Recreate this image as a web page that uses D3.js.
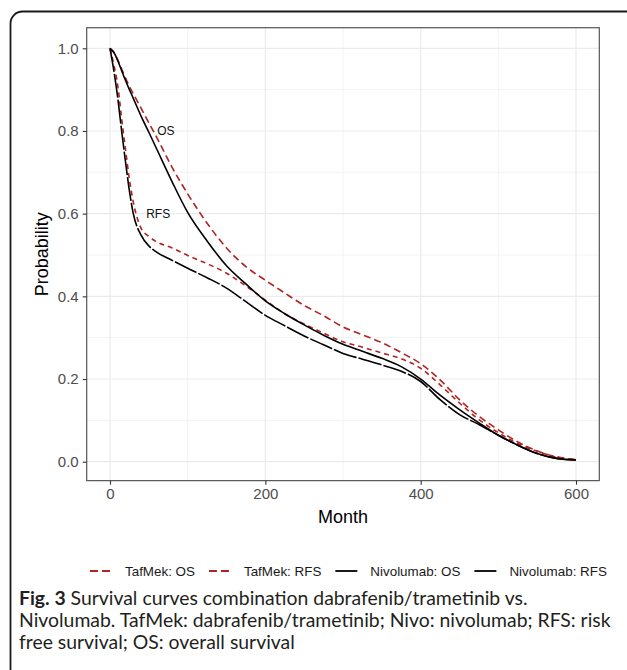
<!DOCTYPE html>
<html>
<head>
<meta charset="utf-8">
<script src="https://cdn.jsdelivr.net/npm/d3@7"></script>
<style>
  html, body { margin: 0; padding: 0; background: #fff; }
  svg { display: block; }
</style>
</head>
<body>
<svg id="chart" width="627" height="670"></svg>
<script>
// ---- data ----
const months = [0, 5, 10, 15, 20, 25, 30, 40, 50, 60, 80, 100, 125, 150, 175, 200, 225, 250, 275, 300, 325, 350, 375, 400, 425, 450, 475, 500, 525, 550, 575, 600];
const tafmekOS = [1.000, 0.990, 0.972, 0.950, 0.928, 0.908, 0.890, 0.855, 0.820, 0.785, 0.712, 0.648, 0.577, 0.517, 0.472, 0.439, 0.408, 0.378, 0.353, 0.326, 0.307, 0.288, 0.264, 0.237, 0.198, 0.150, 0.110, 0.077, 0.048, 0.026, 0.012, 0.005];
const tafmekRFS = [1.000, 0.960, 0.910, 0.830, 0.755, 0.683, 0.628, 0.565, 0.545, 0.532, 0.517, 0.499, 0.479, 0.456, 0.425, 0.391, 0.358, 0.333, 0.311, 0.290, 0.277, 0.263, 0.249, 0.226, 0.186, 0.142, 0.102, 0.070, 0.044, 0.025, 0.011, 0.005];
const nivoOS = [1.000, 0.990, 0.970, 0.946, 0.922, 0.900, 0.879, 0.836, 0.797, 0.757, 0.677, 0.603, 0.534, 0.474, 0.430, 0.389, 0.358, 0.331, 0.306, 0.284, 0.267, 0.250, 0.230, 0.200, 0.161, 0.126, 0.094, 0.064, 0.040, 0.020, 0.008, 0.004];
const nivoRFS = [1.000, 0.945, 0.880, 0.800, 0.725, 0.655, 0.600, 0.548, 0.522, 0.507, 0.487, 0.468, 0.445, 0.420, 0.387, 0.354, 0.329, 0.304, 0.283, 0.262, 0.248, 0.234, 0.219, 0.194, 0.150, 0.114, 0.090, 0.064, 0.040, 0.020, 0.008, 0.004];

const seriesNames = ["TafMek: OS", "TafMek: RFS", "Nivolumab: OS", "Nivolumab: RFS"];
const xTicks = [0, 200, 400, 600];
const yTicks = [0.0, 0.2, 0.4, 0.6, 0.8, 1.0];
const xMinor = [100, 300, 500];
const yMinor = [0.1, 0.3, 0.5, 0.7, 0.9];
const annoLabels = ["OS", "RFS"];
const annoX = [72, 62];
const annoY = [0.8, 0.6];
const captionBold = "Fig. 3";
const captionLines = [
  " Survival curves combination dabrafenib/trametinib vs.",
  "Nivolumab. TafMek: dabrafenib/trametinib; Nivo: nivolumab; RFS: risk",
  "free survival; OS: overall survival"
];

// ---- styles ----
const styles = [
  {color: "#B22222", dash: "7,4"},
  {color: "#B22222", dash: "5,4"},
  {color: "#000000", dash: null},
  {color: "#000000", dash: "24,2"}
];
const series = seriesNames.map((n, i) => ({
  name: n,
  values: [tafmekOS, tafmekRFS, nivoOS, nivoRFS][i].map((v, j) => ({m: months[j], p: v})),
  ...styles[i]
}));

const svg = d3.select("#chart");
svg.append("rect").attr("width", 627).attr("height", 670).attr("fill", "#fff");

// outer rounded frame
svg.append("rect")
  .attr("x", 10.5).attr("y", 11.5).attr("width", 640).attr("height", 720)
  .attr("rx", 12).attr("ry", 12)
  .attr("fill", "none").attr("stroke", "#1a1a1a").attr("stroke-width", 1.8);

const x = d3.scaleLinear().domain([0, 600]).range([110, 576]);
const y = d3.scaleLinear().domain([0, 1]).range([461.7, 48.3]);
const pl = x(-30), pr = x(630), pt = y(1.0498), pb = y(-0.0458);

const g = svg.append("g");
// grid
g.selectAll(".ym").data(yMinor).join("line")
  .attr("x1", pl).attr("x2", pr).attr("y1", d => y(d)).attr("y2", d => y(d))
  .attr("stroke", "#F0F0F0").attr("stroke-width", 0.8);
g.selectAll(".xm").data(xMinor).join("line")
  .attr("y1", pt).attr("y2", pb).attr("x1", d => x(d)).attr("x2", d => x(d))
  .attr("stroke", "#F0F0F0").attr("stroke-width", 0.8);
g.selectAll(".yM").data(yTicks).join("line")
  .attr("x1", pl).attr("x2", pr).attr("y1", d => y(d)).attr("y2", d => y(d))
  .attr("stroke", "#EBEBEB").attr("stroke-width", 1.2);
g.selectAll(".xM").data(xTicks).join("line")
  .attr("y1", pt).attr("y2", pb).attr("x1", d => x(d)).attr("x2", d => x(d))
  .attr("stroke", "#EBEBEB").attr("stroke-width", 1.2);

// lines
const line = d3.line().x(d => x(d.m)).y(d => y(d.p)).curve(d3.curveMonotoneX);
series.forEach(s => {
  g.append("path").attr("d", line(s.values))
    .attr("fill", "none").attr("stroke", s.color).attr("stroke-width", 1.6)
    .attr("stroke-dasharray", s.dash);
});

// annotations
annoLabels.forEach((t, i) => {
  g.append("text").attr("x", x(annoX[i])).attr("y", y(annoY[i]))
    .attr("dy", "0.35em").attr("text-anchor", "middle")
    .attr("font-family", "Liberation Sans, Arial, sans-serif").attr("font-size", 12)
    .attr("fill", "#111").text(t);
});

// panel border
g.append("rect").attr("x", pl).attr("y", pt).attr("width", pr - pl).attr("height", pb - pt)
  .attr("fill", "none").attr("stroke", "#555").attr("stroke-width", 1.2);

// axes
const xAxis = svg.append("g").attr("transform", `translate(0,${pb})`)
  .call(d3.axisBottom(x).tickValues(xTicks).tickSize(4).tickPadding(4).tickFormat(d3.format("d")));
const yAxis = svg.append("g").attr("transform", `translate(${pl},0)`)
  .call(d3.axisLeft(y).tickValues(yTicks).tickSize(4).tickPadding(4).tickFormat(d3.format(".1f")));
[xAxis, yAxis].forEach(a => {
  a.select(".domain").remove();
  a.selectAll(".tick line").attr("stroke", "#333").attr("stroke-width", 1.1);
  a.selectAll(".tick text").attr("font-family", "Liberation Sans, Arial, sans-serif")
    .attr("font-size", 15).attr("fill", "#4d4d4d");
});

// axis titles
svg.append("text").attr("x", (pl + pr) / 2).attr("y", 523).attr("text-anchor", "middle")
  .attr("font-family", "Liberation Sans, Arial, sans-serif").attr("font-size", 18)
  .attr("fill", "#000").text("Month");
svg.append("text").attr("transform", `translate(48,${(pt + pb) / 2}) rotate(-90)`)
  .attr("text-anchor", "middle")
  .attr("font-family", "Liberation Sans, Arial, sans-serif").attr("font-size", 18)
  .attr("fill", "#000").text("Probability");

// legend
const leg = svg.append("g").attr("transform", "translate(90,571)");
let lx = 0;
series.forEach(s => {
  leg.append("line").attr("x1", lx).attr("x2", lx + 22).attr("y1", 0).attr("y2", 0)
    .attr("stroke", s.color).attr("stroke-width", 1.8).attr("stroke-dasharray", s.dash ? (s.dash === "24,2" ? null : "8,4") : null);
  const t = leg.append("text").attr("x", lx + 35).attr("y", 0).attr("dy", "0.35em")
    .attr("font-family", "Liberation Sans, Arial, sans-serif").attr("font-size", 13.4)
    .attr("fill", "#1a1a1a").text(s.name);
  lx += 35 + t.node().getComputedTextLength() + 14;
});

// caption
const capFont = "Lato, 'Open Sans', sans-serif";
const cap = svg.append("g");
const c1 = cap.append("text").attr("x", 19).attr("y", 605).attr("font-family", capFont).attr("fill", "#231f20");
c1.append("tspan").attr("font-weight", "bold").text(captionBold);
c1.append("tspan").text(captionLines[0]);
const c2 = cap.append("text").attr("x", 19).attr("y", 627).attr("font-family", capFont).attr("fill", "#231f20").text(captionLines[1]);
const c3 = cap.append("text").attr("x", 19).attr("y", 649).attr("font-family", capFont).attr("fill", "#231f20").text(captionLines[2]);
cap.selectAll("text").attr("font-size", 20);
const w2 = c2.node().getComputedTextLength();
const fs = 20 * 592 / w2;
cap.selectAll("text").attr("font-size", fs);
</script>
</body>
</html>
